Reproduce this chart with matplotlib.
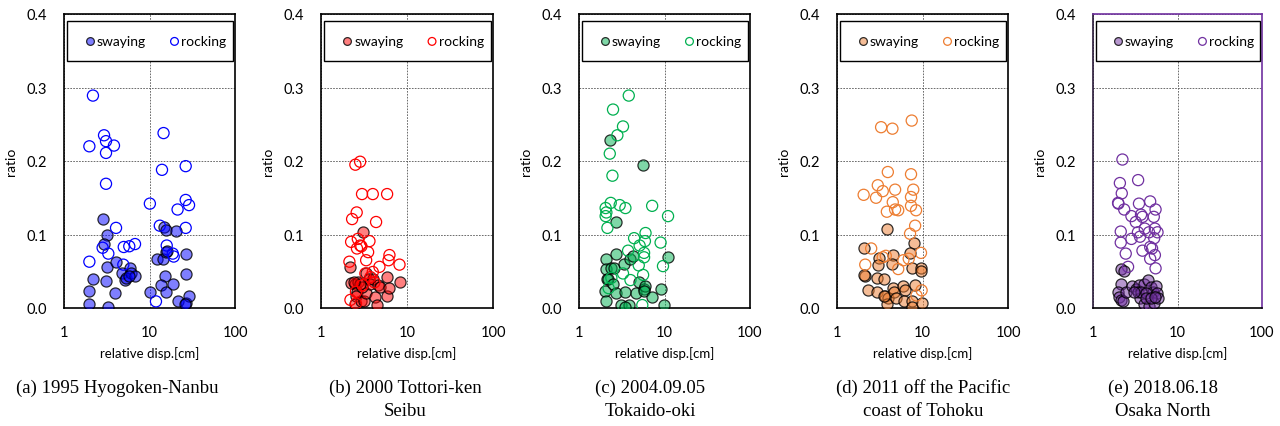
import matplotlib
matplotlib.use("Agg")
import matplotlib.pyplot as plt
from matplotlib.colors import to_rgba
from matplotlib.patches import Rectangle
from matplotlib.ticker import FixedLocator, NullLocator

plt.rcParams['font.family'] = ['Lato', 'DejaVu Sans']

# ── Data ─────────────────────────────────────────────────────────────────────
# (a) 1995 Hyogoken-Nanbu
sway_x_a = [2.83, 3.15, 2.94, 3.15, 4.06, 2.2, 3.1, 1.98, 3.95, 1.96, 3.24, 4.73, 5.17, 5.3,
            5.9, 6.0, 6.77, 5.8, 10.1, 12.1, 14.3, 14.8, 15.6, 15.0, 15.4, 15.9, 13.6, 15.6,
            19.0, 20.2, 21.3, 26.5, 26.7, 26.5, 29.0, 26.0]
sway_y_a = [0.121, 0.100, 0.087, 0.056, 0.062, 0.039, 0.037, 0.023, 0.021, 0.005, 0.002, 0.048,
            0.038, 0.041, 0.054, 0.048, 0.043, 0.044, 0.022, 0.066, 0.066, 0.110, 0.106, 0.044,
            0.076, 0.078, 0.031, 0.022, 0.033, 0.105, 0.010, 0.074, 0.046, 0.007, 0.017, 0.006]
rock_x_a = [2.18, 1.98, 2.94, 3.1, 3.1, 3.84, 3.1, 4.06, 2.83, 3.3, 1.98, 4.94, 5.0, 5.8, 6.77,
            10.1, 14.6, 14.0, 13.2, 15.9, 19.2, 21.3, 26.5, 26.5, 29.0, 26.5, 11.9, 18.7]
rock_y_a = [0.289, 0.220, 0.235, 0.227, 0.211, 0.221, 0.169, 0.109, 0.082, 0.074, 0.063, 0.059,
            0.083, 0.084, 0.087, 0.142, 0.238, 0.188, 0.112, 0.085, 0.070, 0.134, 0.193, 0.147,
            0.140, 0.109, 0.009, 0.074]

# (b) 2000 Tottori-ken Seibu
sway_x_b = [3.05, 2.2, 2.24, 2.5, 2.68, 2.62, 2.55, 2.51, 2.9, 3.2, 3.35, 3.3, 3.6, 3.75, 4.0,
            4.2, 4.5, 4.66, 4.9, 5.87, 5.87, 6.25, 8.3, 2.97, 2.85, 2.4]
sway_y_b = [0.103, 0.056, 0.034, 0.032, 0.036, 0.022, 0.016, 0.006, 0.009, 0.010, 0.021, 0.047,
            0.039, 0.033, 0.040, 0.015, 0.004, 0.031, 0.029, 0.042, 0.017, 0.027, 0.036, 0.029,
            0.032, 0.036]
rock_x_b = [2.51, 2.85, 3.0, 4.0, 5.87, 2.3, 2.6, 4.37, 2.24, 2.68, 2.86, 2.95, 2.62, 3.66, 3.53,
            3.35, 2.14, 6.25, 6.1, 8.18, 4.78, 2.2, 3.76, 4.0, 3.28, 2.55, 3.05, 2.55, 4.18]
rock_y_b = [0.195, 0.199, 0.155, 0.155, 0.155, 0.121, 0.130, 0.117, 0.090, 0.094, 0.085, 0.084,
            0.081, 0.091, 0.076, 0.065, 0.063, 0.072, 0.065, 0.059, 0.056, 0.011, 0.042, 0.049,
            0.047, 0.022, 0.031, 0.006, 0.035]

# (c) 2004.09.05 Tokaido-oki
sway_x_c = [2.33, 5.62, 2.69, 2.74, 2.09, 2.05, 2.39, 2.13, 2.18, 2.57, 3.34, 3.92, 4.29, 11.0,
            2.03, 2.09, 2.5, 2.74, 3.13, 3.43, 3.8, 4.7, 5.0, 5.77, 5.9, 5.77, 7.17, 9.2, 9.9, 3.43]
sway_y_c = [0.229, 0.195, 0.117, 0.074, 0.066, 0.053, 0.054, 0.040, 0.039, 0.054, 0.060, 0.067,
            0.071, 0.069, 0.023, 0.010, 0.032, 0.020, 0.004, 0.022, 0.004, 0.020, 0.035, 0.026,
            0.030, 0.023, 0.015, 0.026, 0.004, 0.002]
rock_x_c = [3.82, 2.5, 3.27, 2.81, 2.29, 2.46, 2.05, 2.09, 2.05, 2.35, 2.99, 3.49, 7.17, 11.0,
            2.15, 6.0, 5.9, 4.41, 9.0, 3.75, 5.77, 5.77, 9.6, 5.0, 3.27, 5.62, 2.22, 4.0, 5.5,
            2.39, 5.12]
rock_y_c = [0.289, 0.270, 0.247, 0.235, 0.210, 0.180, 0.136, 0.130, 0.125, 0.143, 0.140, 0.136,
            0.139, 0.125, 0.109, 0.102, 0.091, 0.095, 0.089, 0.078, 0.075, 0.069, 0.057, 0.058,
            0.047, 0.045, 0.027, 0.038, 0.004, 0.041, 0.085]

# (d) 2011 off the Pacific coast of Tohoku
sway_x_d = [3.83, 2.05, 7.96, 7.15, 3.11, 3.0, 4.57, 4.38, 2.14, 2.08, 2.92, 3.5, 7.6, 9.6, 9.5,
            2.3, 2.92, 3.66, 3.9, 3.83, 4.57, 4.7, 4.9, 5.98, 6.25, 6.13, 7.6, 7.45, 8.2, 9.76, 3.5]
sway_y_d = [0.107, 0.081, 0.088, 0.075, 0.068, 0.058, 0.072, 0.060, 0.044, 0.045, 0.041, 0.040,
            0.054, 0.054, 0.051, 0.025, 0.022, 0.016, 0.013, 0.005, 0.027, 0.022, 0.013, 0.030,
            0.025, 0.010, 0.010, 0.001, 0.031, 0.007, 0.017]
rock_x_d = [7.48, 3.28, 4.45, 3.93, 7.34, 2.05, 3.0, 3.43, 2.86, 4.78, 4.49, 7.34, 7.8, 3.83, 4.78,
            5.2, 7.34, 8.4, 8.2, 7.15, 2.51, 2.14, 3.43, 3.72, 5.2, 5.98, 9.6, 9.76, 8.5, 6.9]
rock_y_d = [0.255, 0.246, 0.244, 0.185, 0.182, 0.154, 0.167, 0.159, 0.150, 0.161, 0.144, 0.151,
            0.161, 0.131, 0.134, 0.133, 0.139, 0.133, 0.112, 0.101, 0.081, 0.059, 0.069, 0.071,
            0.053, 0.065, 0.075, 0.024, 0.017, 0.067]

# (e) 2018.06.18 Osaka North
sway_x_e = [2.17, 2.33, 2.13, 2.0, 2.03, 2.13, 2.28, 2.44, 2.93, 3.21, 3.52, 3.45, 3.96, 4.5,
            4.86, 5.06, 5.54, 5.7, 3.6, 4.04, 4.6, 5.2, 5.9, 3.7, 4.2, 3.07, 4.2, 4.8, 5.4]
sway_y_e = [0.053, 0.050, 0.033, 0.022, 0.015, 0.011, 0.009, 0.022, 0.030, 0.026, 0.031, 0.022,
            0.033, 0.038, 0.029, 0.022, 0.030, 0.020, 0.013, 0.006, 0.003, 0.007, 0.013, 0.022,
            0.021, 0.022, 0.013, 0.013, 0.015]
rock_x_e = [2.23, 2.08, 2.19, 3.42, 1.98, 2.0, 2.34, 3.5, 4.75, 5.5, 2.85, 3.21, 3.85, 5.24, 4.1,
            4.6, 5.4, 5.8, 2.13, 2.13, 2.85, 3.6, 5.3, 2.44, 3.85, 4.75, 5.0, 5.4, 4.75, 5.5, 2.6,
            3.7, 3.4]
rock_y_e = [0.202, 0.170, 0.156, 0.174, 0.143, 0.142, 0.134, 0.142, 0.145, 0.134, 0.125, 0.117,
            0.124, 0.124, 0.108, 0.103, 0.108, 0.103, 0.104, 0.089, 0.094, 0.097, 0.095, 0.074,
            0.078, 0.083, 0.081, 0.072, 0.067, 0.054, 0.056, 0.127, 0.103]

captions = ["(a) 1995 Hyogoken-Nanbu", "(b) 2000 Tottori-ken\nSeibu",
            "(c) 2004.09.05\nTokaido-oki", "(d) 2011 off the Pacific\ncoast of Tohoku",
            "(e) 2018.06.18\nOsaka North"]
colors = ["#0000FF", "#FF0000", "#00B050", "#ED7D31", "#7030A0"]
x_ticks = [1, 10, 100]
y_ticks = [0.0, 0.1, 0.2, 0.3, 0.4]

sway_x = [sway_x_a, sway_x_b, sway_x_c, sway_x_d, sway_x_e]
sway_y = [sway_y_a, sway_y_b, sway_y_c, sway_y_d, sway_y_e]
rock_x = [rock_x_a, rock_x_b, rock_x_c, rock_x_d, rock_x_e]
rock_y = [rock_y_a, rock_y_b, rock_y_c, rock_y_d, rock_y_e]

# ── Layout (pixel boxes of the axes) ─────────────────────────────────────────
W, H = 1280, 427
ax_left = [64, 321, 579, 837, 1093]
ax_right = [235, 493, 750, 1008, 1262]
ax_top, ax_bot = 15, 309
cap_x = [117, 405, 650, 923, 1163]

fig = plt.figure(figsize=(W / 100, H / 100), dpi=100)

for i in range(5):
    l, r = ax_left[i], ax_right[i]
    ax = fig.add_axes([l / W, 1 - ax_bot / H, (r - l) / W, (ax_bot - ax_top) / H])
    c = colors[i]
    ax.scatter(sway_x[i], sway_y[i], s=64, color=to_rgba(c, 0.5),
               edgecolors=[(0, 0, 0, 0.8)], linewidths=0.9, label="swaying", zorder=3)
    ax.scatter(rock_x[i], rock_y[i], s=64, facecolors="none", edgecolors=c,
               linewidths=0.9, label="rocking", zorder=4)

    ax.set_xscale("log")
    ax.set_xlim(1, 100)
    ax.set_ylim(0, 0.4)
    ax.xaxis.set_major_locator(FixedLocator(x_ticks))
    ax.xaxis.set_minor_locator(NullLocator())
    ax.set_xticklabels([str(t) for t in x_ticks])
    ax.set_yticks(y_ticks)
    ax.set_yticklabels([f"{t:.1f}" for t in y_ticks])
    ax.tick_params(length=0, labelsize=10.5, pad=12)
    ax.grid(True, color="#555555", linestyle=(0, (2, 1.5)), linewidth=0.6, zorder=0)
    ax.set_axisbelow(True)
    for sp in ax.spines.values():
        sp.set_linewidth(1.2)
    if i == 4:
        ax.spines["top"].set_color(c)
        ax.spines["right"].set_color(c)
        ax.spines["left"].set_color("#2a1a3a")

    ax.set_ylabel("ratio", fontsize=10, labelpad=7)
    ax.set_xlabel("relative disp.[cm]", fontsize=9.5, labelpad=5)

    # legend box spans nearly the full axes width
    ax.add_patch(Rectangle((0.018, 0.840), 0.97, 0.136, transform=ax.transAxes,
                           facecolor="white", edgecolor="black", linewidth=1.0, zorder=5))
    leg = ax.legend(loc="center", bbox_to_anchor=(0.535, 0.908), ncol=2, fontsize=10,
                    markerscale=0.7, handlelength=0.8, handletextpad=0.1,
                    columnspacing=1.65, frameon=False)
    leg.set_zorder(6)

    for k, line in enumerate(captions[i].split("\n")):
        fig.text(cap_x[i] / W, 1 - (388 + 24 * k) / H, line, ha="center", va="center",
                 fontsize=13.5, family="Liberation Serif")

fig.savefig("out.png", dpi=100)
